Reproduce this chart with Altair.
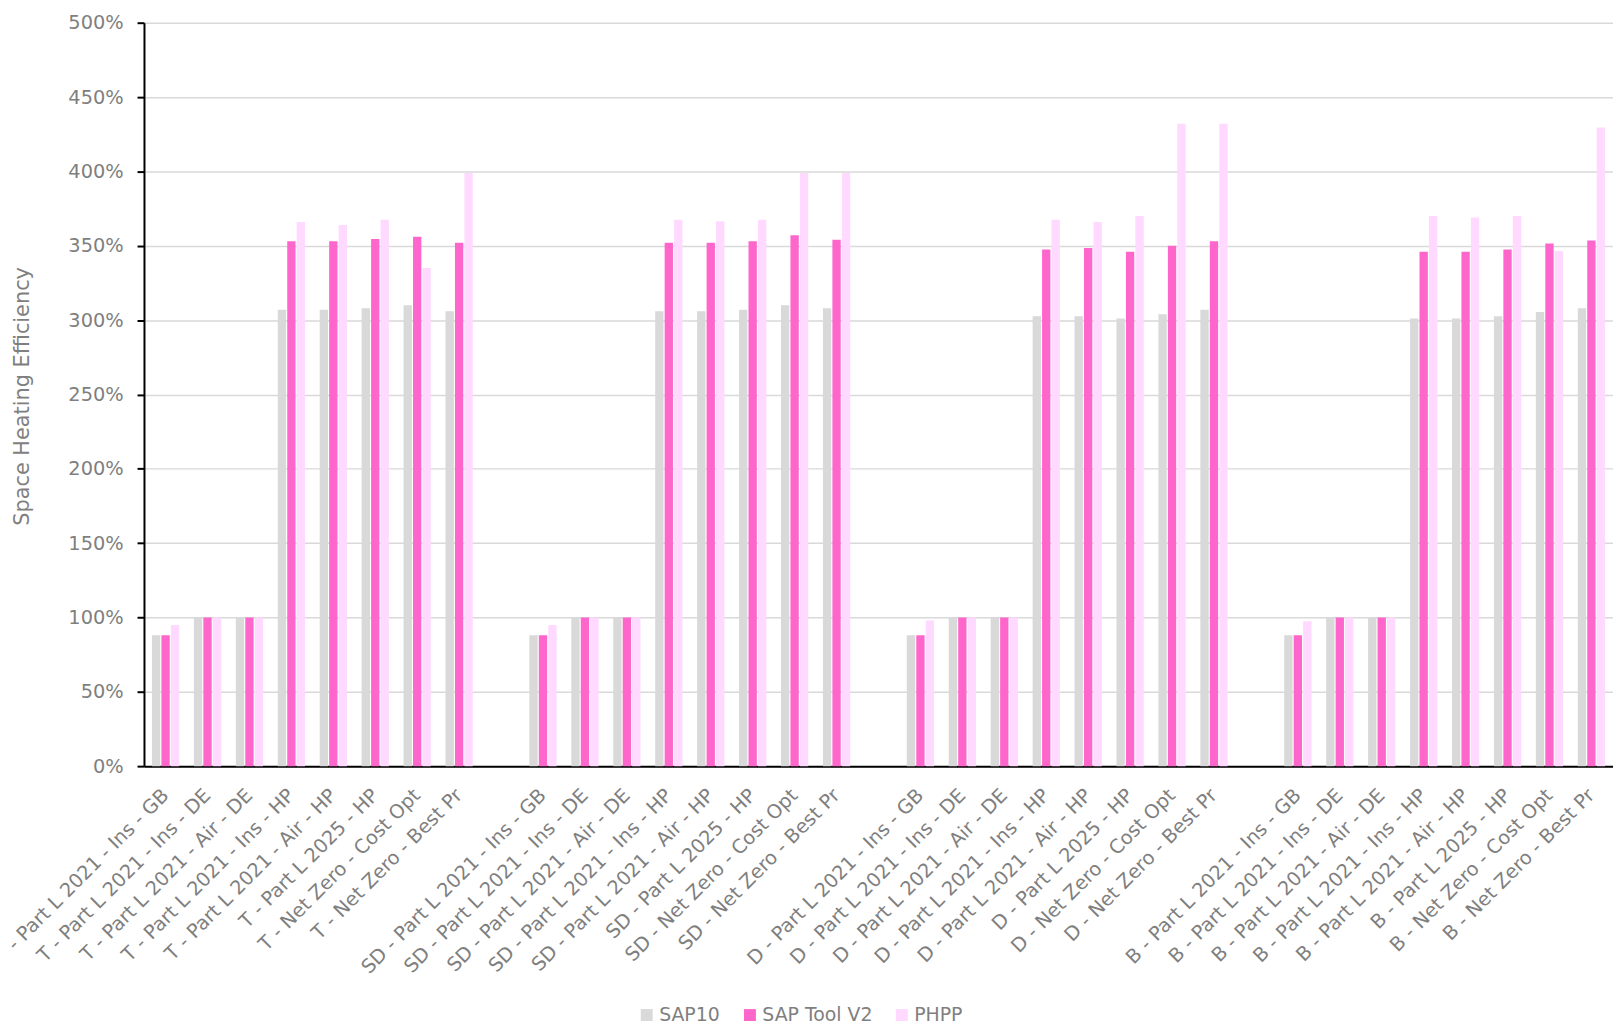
import altair as alt
import pandas as pd

# ---- data ----
groups = ["T", "SD", "D", "B"]
scenarios = [
    "Part L 2021 - Ins - GB",
    "Part L 2021 - Ins - DE",
    "Part L 2021 - Air - DE",
    "Part L 2021 - Ins - HP",
    "Part L 2021 - Air - HP",
    "Part L 2025 - HP",
    "Net Zero - Cost Opt",
    "Net Zero - Best Pr",
]
series = ["SAP10", "SAP Tool V2", "PHPP"]
colors = ["#d9d9d9", "#ff66cc", "#ffd9ff"]

# values in percent, per group, in scenario order
sap10 = {
    "T":  [88, 100, 100, 307, 307, 308, 310, 306],
    "SD": [88, 100, 100, 306, 306, 307, 310, 308],
    "D":  [88, 100, 100, 302.5, 302.5, 301, 304, 307],
    "B":  [88, 100, 100, 301, 301, 302.5, 305.5, 308],
}
sap_tool = {
    "T":  [88, 100, 100, 353, 353, 354.5, 356, 352],
    "SD": [88, 100, 100, 352, 352, 353, 357, 354],
    "D":  [88, 100, 100, 347.5, 348.5, 346, 350, 353],
    "B":  [88, 100, 100, 346, 346, 347.5, 351.5, 353.5],
}
phpp = {
    "T":  [95, 100, 100, 366, 364, 367.5, 335, 399],
    "SD": [95, 100, 100, 367.5, 366.5, 367.5, 399, 399],
    "D":  [98, 100, 100, 367.5, 366, 370, 432, 432],
    "B":  [97.5, 100, 100, 370, 369, 370, 346.5, 429.5],
}

# ---- build table ----
domain = []
rows = []
for gi, g in enumerate(groups):
    for si, s in enumerate(scenarios):
        cat = f"{g} - {s}"
        domain.append(cat)
        for name, src in zip(series, [sap10, sap_tool, phpp]):
            rows.append({"cat": cat, "series": name, "value": src[g][si] / 100.0})
    if gi < len(groups) - 1:
        domain.append(" " * (gi + 1))  # blank spacer category
df = pd.DataFrame(rows)

FONT = "DejaVu Sans"
GRAY = "#7f7f7f"
FS = 19.5

chart = (
    alt.Chart(df)
    .mark_bar()
    .encode(
        x=alt.X(
            "cat:N",
            scale=alt.Scale(domain=domain, paddingInner=0.35, paddingOuter=0.19),
            axis=alt.Axis(
                title=None,
                labelAngle=-45,
                labelAlign="right",
                labelBaseline="middle",
                labelPadding=26,
                labelFontSize=FS,
                labelColor=GRAY,
                labelFont=FONT,
                labelLimit=500,
                labelOverlap=False,
                ticks=False,
                domainColor="#000000",
                domainWidth=2,
                grid=False,
            ),
        ),
        xOffset=alt.XOffset(
            "series:N",
            sort=series,
            scale=alt.Scale(domain=series, paddingInner=0.12),
        ),
        y=alt.Y(
            "value:Q",
            scale=alt.Scale(domain=[0, 5], nice=False),
            axis=alt.Axis(
                title="Space Heating Efficiency",
                values=[0, 0.5, 1, 1.5, 2, 2.5, 3, 3.5, 4, 4.5, 5],
                format=".0%",
                labelFontSize=FS,
                labelColor=GRAY,
                labelFont=FONT,
                labelPadding=14,
                tickSize=7,
                tickColor="#000000",
                tickWidth=2,
                domainColor="#000000",
                domainWidth=2,
                gridColor="#d9d9d9",
                gridWidth=1.5,
                titleFontSize=21,
                titleFontWeight="normal",
                titleColor=GRAY,
                titleFont=FONT,
                titleAngle=270,
                titleAlign="center",
                titleBaseline="middle",
                titleX=-122,
                titleY=376,
            ),
        ),
        color=alt.Color(
            "series:N",
            sort=series,
            scale=alt.Scale(domain=series, range=colors),
            legend=alt.Legend(
                title=None,
                orient="none",
                direction="horizontal",
                legendX=497,
                legendY=990,
                symbolType="square",
                symbolSize=144,
                symbolStrokeWidth=0,
                labelFontSize=19,
                labelColor=GRAY,
                labelFont=FONT,
                labelOffset=3,
                columnPadding=20,
                padding=0,
            ),
        ),
    )
    .properties(
        width=1480,
        height=749,
        autosize=alt.AutoSizeParams(type="none"),
        padding={"left": 137, "top": 11, "right": 0, "bottom": 262},
    )
    .configure_view(stroke=None)
)

chart.save("out.html", embed_options={"renderer": "svg", "actions": False})
